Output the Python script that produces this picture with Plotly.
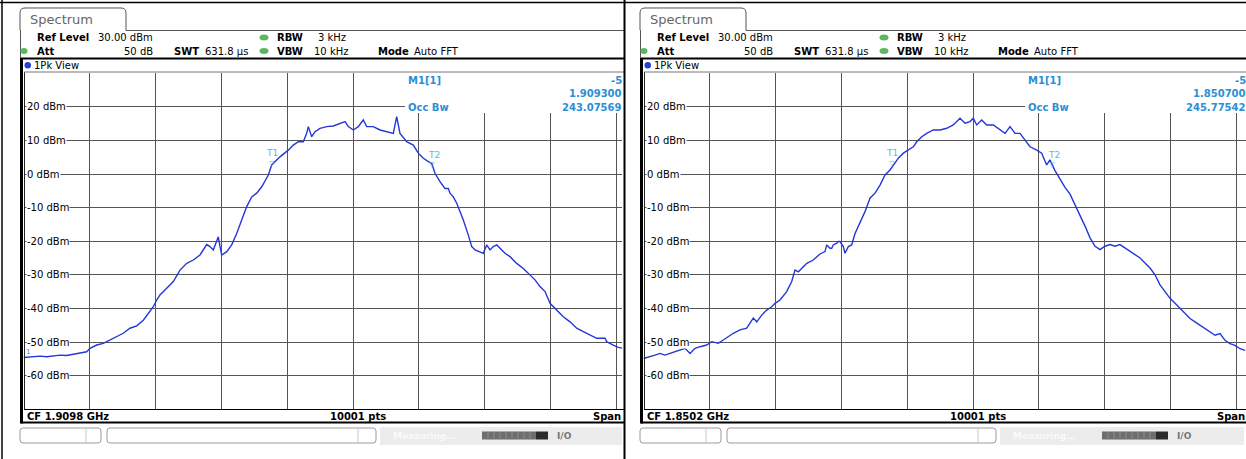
import plotly.graph_objects as go

# ---------------- data (read from the two analyzer screens) ----------------
cf_left_mhz = 1909.8
cf_right_mhz = 1850.2
span_khz = 1000.0

left_offset_khz = [0.0, 14.9, 25.0, 35.2, 45.2, 55.4, 65.6, 75.6, 85.7, 95.9,
                   100.9, 111.1, 121.1, 131.3, 141.4, 151.4, 161.6, 171.8, 181.8, 189.4,
                   197.0, 202.1, 207.1, 217.3, 227.3, 237.5, 247.7, 257.7, 267.8, 278.0,
                   283.0, 288.0, 295.6, 298.2, 300.8, 308.4, 315.9, 323.5, 331.1, 338.7,
                   346.3, 353.9, 361.5, 366.5, 371.5, 376.6, 381.6, 389.2, 401.8, 409.4,
                   417.0, 424.6, 429.7, 432.2, 437.3, 442.4, 449.9, 460.1, 470.1, 480.3,
                   487.9, 492.9, 500.5, 508.1, 515.6, 520.8, 530.8, 541.0, 551.2, 561.2,
                   566.3, 571.3, 581.5, 586.5, 591.5, 599.1, 606.7, 614.3, 619.4, 624.4,
                   632.0, 639.6, 644.6, 647.2, 652.2, 657.4, 662.4, 667.4, 675.0, 680.2,
                   685.2, 692.8, 697.7, 702.9, 707.9, 712.9, 718.1, 723.1, 730.7, 738.3,
                   748.4, 758.5, 768.6, 776.2, 783.8, 791.4, 799.0, 809.1, 819.1, 829.3,
                   839.5, 849.5, 859.7, 869.8, 882.4, 885.0, 895.0, 902.6, 910.2]
left_level_dbm = [-54.6, -54.4, -54.2, -54.4, -54.2, -53.9, -54.0, -53.6, -53.2, -52.9,
                  -51.9, -50.9, -50.4, -49.4, -48.4, -47.4, -45.9, -45.2, -43.5, -41.5,
                  -39.5, -37.5, -36.0, -34.0, -32.0, -28.6, -26.6, -25.6, -24.1, -21.0,
                  -21.6, -22.6, -18.7, -21.6, -24.1, -23.1, -21.1, -17.7, -13.7, -9.7,
                  -6.8, -5.7, -3.8, -1.8, -0.3, 2.7, 3.7, 5.1, 7.1, 8.6,
                  9.6, 9.6, 12.1, 14.1, 11.1, 12.6, 13.6, 14.1, 14.3, 15.1,
                  15.6, 14.1, 13.1, 14.1, 16.1, 14.1, 14.1, 13.1, 12.6, 12.1,
                  17.1, 12.1, 9.6, 9.1, 8.6, 6.2, 4.7, 3.7, 3.2, 0.2,
                  -2.3, -4.3, -4.3, -5.7, -6.8, -8.7, -11.2, -13.7, -18.2, -21.6,
                  -22.6, -23.1, -23.6, -21.1, -22.6, -21.6, -21.1, -22.1, -23.6, -24.6,
                  -26.6, -28.1, -30.1, -31.5, -33.5, -35.0, -38.5, -40.5, -42.5, -44.0,
                  -45.9, -46.9, -47.9, -48.9, -48.9, -49.9, -50.9, -51.6, -51.9]

right_offset_khz = [0.0, 9.9, 17.5, 25.0, 32.6, 40.2, 47.8, 55.4, 63.0, 70.6,
                    78.2, 85.7, 95.9, 103.5, 113.5, 121.1, 128.7, 136.3, 146.4, 156.6,
                    166.6, 171.8, 179.4, 187.0, 194.5, 199.6, 207.1, 217.3, 224.9, 229.9,
                    235.0, 240.2, 247.7, 257.7, 267.8, 275.4, 278.0, 283.0, 285.6, 288.0,
                    293.2, 295.6, 298.2, 303.2, 305.8, 310.8, 315.9, 321.0, 328.5, 336.1,
                    343.7, 351.3, 358.9, 366.5, 374.1, 379.1, 386.7, 394.3, 401.8, 409.4,
                    414.6, 422.2, 429.7, 439.8, 450.0, 460.1, 470.1, 480.3, 487.9, 495.5,
                    500.5, 505.6, 513.2, 520.8, 530.8, 541.0, 548.6, 556.2, 563.7, 571.3,
                    578.9, 586.5, 596.7, 604.2, 611.8, 616.8, 624.4, 632.0, 639.6, 647.2,
                    654.8, 662.4, 670.0, 677.6, 685.2, 692.8, 700.3, 707.9, 715.5, 723.1,
                    730.7, 738.3, 745.9, 753.5, 761.0, 768.6, 776.2, 783.8, 791.4, 799.0,
                    806.6, 814.2, 821.8, 829.3, 836.9, 844.5, 852.1, 859.7, 867.3, 874.9,
                    882.4, 890.0, 897.6, 905.2, 912.8]
right_level_dbm = [-54.9, -54.4, -53.9, -53.4, -53.9, -53.4, -52.9, -52.4, -51.9, -53.4,
                   -51.9, -51.4, -50.9, -49.9, -50.4, -49.4, -48.4, -47.4, -46.4, -45.9,
                   -42.9, -44.0, -42.0, -40.5, -39.5, -38.5, -37.5, -35.0, -32.0, -28.6,
                   -29.1, -28.1, -26.6, -25.6, -23.8, -23.1, -21.1, -22.1, -22.1, -21.1,
                   -20.6, -20.1, -20.1, -21.6, -23.6, -21.6, -21.1, -17.7, -14.7, -11.2,
                   -7.2, -5.7, -3.3, -0.3, 1.2, 2.7, 4.7, 6.2, 7.1, 8.1,
                   9.6, 11.1, 12.1, 13.1, 13.1, 13.6, 14.6, 16.6, 15.1, 15.6,
                   16.6, 14.6, 16.1, 14.6, 14.6, 13.1, 12.1, 14.1, 12.1, 12.1,
                   10.1, 8.1, 7.1, 6.2, 2.7, 4.2, 1.0, -1.5, -4.0, -6.0,
                   -9.0, -12.0, -15.5, -19.0, -21.5, -22.5, -21.5, -21.0, -21.5, -21.0,
                   -22.0, -23.0, -24.0, -25.0, -26.5, -28.0, -30.0, -33.0, -35.0, -37.0,
                   -38.5, -40.0, -41.5, -43.0, -44.0, -45.0, -46.0, -47.0, -48.0, -47.5,
                   -49.5, -50.5, -51.0, -52.0, -52.5]

y_tick_labels = [20, 10, 0, -10, -20, -30, -40, -50, -60]

panels = [
    dict(cf=cf_left_mhz, offs=left_offset_khz, lev=left_level_dbm,
         cf_text="CF 1.9098 GHz", m1_freq="1.909300", occ="243.07569"),
    dict(cf=cf_right_mhz, offs=right_offset_khz, lev=right_level_dbm,
         cf_text="CF 1.8502 GHz", m1_freq="1.850700", occ="245.77542"),
]

# ---------------- layout helpers (pixel -> paper) ----------------
W, H = 1246, 459
FONT = "DejaVu Sans"


def px(x):
    return x / W


def py(y):
    return 1 - y / H


shapes = []
annotations = []


def line(x0, y0, x1, y1, color="black", width=1):
    shapes.append(dict(type="line", xref="paper", yref="paper", x0=px(x0), y0=py(y0),
                       x1=px(x1), y1=py(y1), line=dict(color=color, width=width), layer="above"))


def rect(x0, y0, x1, y1, fill, lc=None, width=0):
    shapes.append(dict(type="rect", xref="paper", yref="paper", x0=px(x0), y0=py(y0),
                       x1=px(x1), y1=py(y1), fillcolor=fill,
                       line=dict(color=lc or fill, width=width), layer="above"))


def ellipse(x0, y0, x1, y1, fill):
    shapes.append(dict(type="circle", xref="paper", yref="paper", x0=px(x0), y0=py(y0),
                       x1=px(x1), y1=py(y1), fillcolor=fill, line=dict(width=0), layer="above"))


def path(d_pts, color="#555", width=1):
    parts = []
    for item in d_pts:
        cmd, coords = item[0], item[1:]
        xy = []
        for i in range(0, len(coords), 2):
            xy.append(f"{px(coords[i]):.6f},{py(coords[i+1]):.6f}")
        parts.append(cmd + " " + " ".join(xy))
    shapes.append(dict(type="path", xref="paper", yref="paper", path=" ".join(parts),
                       line=dict(color=color, width=width), layer="above"))


def rounded(x0, y0, x1, y1, r, color="#9a9a9a"):
    path([("M", x0 + r, y0), ("L", x1 - r, y0), ("Q", x1, y0, x1, y0 + r),
          ("L", x1, y1 - r), ("Q", x1, y1, x1 - r, y1), ("L", x0 + r, y1),
          ("Q", x0, y1, x0, y1 - r), ("L", x0, y0 + r), ("Q", x0, y0, x0 + r, y0)],
         color=color, width=1)


def text(t, x, y, anchor="left", size=10, color="black", bold=False, bg=None, yref=None):
    a = dict(text=(f"<b>{t}</b>" if bold else t), xref="paper", x=px(x),
             xanchor=anchor, yanchor="middle", showarrow=False,
             font=dict(family=FONT, size=size, color=color), borderpad=0)
    if yref:
        a["yref"] = yref
        a["y"] = y
    else:
        a["yref"] = "paper"
        a["y"] = py(y)
    if bg:
        a["bgcolor"] = bg
    annotations.append(a)


fig = go.Figure()

BLUE_TXT = "#2a8fd6"
MARK_TXT = "#62b6e4"
GRID = "#555555"
PX_PER_MHZ = 659.0

for i, p in enumerate(panels):
    ox = 620 * i
    xe = 624 if i == 0 else 1246          # visible right edge of the panel frame
    plot_r = 622 if i == 0 else 1246      # visible right edge of plot area
    plot_l = 23.5 + ox
    f0 = p["cf"] - span_khz / 2000.0
    freqs = [f0 + o / 1000.0 for o in p["offs"]]
    xa = "x" if i == 0 else "x2"
    ya = "y" if i == 0 else "y2"
    sfx = "" if i == 0 else "2"

    fig.add_trace(go.Scatter(x=freqs, y=p["lev"], mode="lines", xaxis=xa, yaxis=ya,
                             line=dict(color="#2536d8", width=1.4), showlegend=False,
                             hoverinfo="skip"))

    fig.update_layout(**{
        f"xaxis{sfx}": dict(domain=[px(plot_l), px(plot_r)],
                            range=[f0, f0 + (plot_r - plot_l) / PX_PER_MHZ],
                            tick0=f0, dtick=0.1, showgrid=True, gridcolor=GRID, gridwidth=1,
                            showticklabels=False, ticks="", zeroline=False, showline=False,
                            fixedrange=True, anchor=ya),
        f"yaxis{sfx}": dict(domain=[py(409.2), py(73.2)], range=[-70, 30], tick0=0, dtick=10,
                            showgrid=True, gridcolor=GRID, gridwidth=1, showticklabels=False,
                            ticks="", zeroline=False, showline=False, fixedrange=True,
                            anchor=xa),
    })

    # y labels inside the plot (white box interrupts the gridline)
    for v in y_tick_labels:
        text(f"{v} dBm", 26 + ox, v, size=10, bg="white", yref=ya)

    # ---- tab + header ----
    path([("M", 20 + ox, 30), ("L", 20 + ox, 13), ("Q", 20 + ox, 8, 25 + ox, 8),
          ("L", 121 + ox, 8), ("Q", 126 + ox, 8, 126 + ox, 13), ("L", 126 + ox, 30.5)],
         color="#555", width=1)
    text("Spectrum", 29 + ox, 19, size=13, color="#666")
    line(126 + ox, 30.5, xe, 30.5, "#555", 1)
    line(20.5 + ox, 30, 20.5 + ox, 58, "#555", 1)

    text("Ref Level", 36 + ox, 37.5, bold=True)
    text("30.00 dBm", 97 + ox, 37.5)
    ellipse(259.5 + ox, 34.5, 268.5 + ox, 40.5, "#5cb85c")
    text("RBW", 276 + ox, 37.5, bold=True)
    text("3 kHz", 317 + ox, 37.5)

    ellipse(20.5 + ox, 48, 27.5 + ox, 54, "#5cb85c")
    text("Att", 36 + ox, 51, bold=True)
    text("50 dB", 154 + ox, 51, anchor="right")
    text("SWT", 173 + ox, 51, bold=True)
    text("631.8 µs", 204 + ox, 51)
    ellipse(259.5 + ox, 48, 268.5 + ox, 54, "#5cb85c")
    text("VBW", 276 + ox, 51, bold=True)
    text("10 kHz", 313 + ox, 51)
    text("Mode", 377 + ox, 51, bold=True)
    text("Auto FFT", 413 + ox, 51)

    # ---- trace window frame ----
    line(21 + ox, 58.5, xe, 58.5, "black", 2)
    line(21.5 + ox, 58, 21.5 + ox, 423.5, "black", 3)
    line(24.5 + ox, 72, 24.5 + ox, 409.5, "#222", 1)
    line(24 + ox, 72, xe, 72, "#777", 1)
    line(24 + ox, 409.5, xe, 409.5, "black", 1)
    line(21 + ox, 422.5, xe, 422.5, "black", 2)
    ellipse(24.5 + ox, 62, 31 + ox, 68.5, "#1f3fd8")
    text("1Pk View", 33 + ox, 65.5)

    # marker info box
    rect(405 + ox, 73, plot_r, 113, "white")
    text("M1[1]", 407 + ox, 80, bold=True, color=BLUE_TXT)
    text("-5", plot_r + 1, 80, anchor="right", bold=True, color=BLUE_TXT)
    text(p["m1_freq"], plot_r + 1, 93.5, anchor="right", bold=True, color=BLUE_TXT)
    text("Occ Bw", 407 + ox, 107, bold=True, color=BLUE_TXT)
    text(p["occ"], plot_r + 1, 107, anchor="right", bold=True, color=BLUE_TXT)

    # T1 / T2 occupied bandwidth markers
    text("T1", 265 + ox, 153, size=9, color=MARK_TXT)
    text("▽", 272 + ox, 163.5, size=7, color=MARK_TXT, anchor="center")
    text("T2", 427 + ox, 154.5, size=9, color=MARK_TXT)
    text("▽", 432 + ox, 165, size=7, color=MARK_TXT, anchor="center")
    if i == 0:
        text("1", 25 + ox, 352, size=7, color=BLUE_TXT)

    # bottom status bar of the window
    text(p["cf_text"], 26 + ox, 416, bold=True)
    text("10001 pts", 358 + ox, 416, anchor="center", bold=True)
    text("Span", plot_r, 416, anchor="right", bold=True)

    # soft-key / status area below the window
    rounded(20 + ox, 428, 101 + ox, 443, 3)
    line(86 + ox, 428, 86 + ox, 443, "#c8c8c8", 1)
    rounded(107 + ox, 428, 376 + ox, 443, 3)
    line(358 + ox, 428, 358 + ox, 443, "#c8c8c8", 1)
    rect(380 + ox, 427, xe - 2, 445, "#ececec")
    text("Measuring...", 392 + ox, 436, size=9, color="#fafafa", bold=True)
    rect(482 + ox, 431.5, 536 + ox, 439.5, "#6e6e6e")
    for k in range(1, 9):
        line(482 + ox + 6 * k, 431.5, 482 + ox + 6 * k, 439.5, "#8a8a8a", 1)
    rect(536 + ox, 431.5, 548 + ox, 439.5, "#2a2a2a")
    text("I/O", 564 + ox, 435.5, size=9, color="#777", bold=True, anchor="center")

# outer borders
line(0, 2.5, W, 2.5, "black", 1.5)
line(2, 0, 2, H, "black", 1.5)
line(624.5, 0, 624.5, H, "black", 2)

fig.update_layout(width=W, height=H, margin=dict(l=0, r=0, t=0, b=0), autosize=False,
                  paper_bgcolor="white", plot_bgcolor="white", showlegend=False,
                  shapes=shapes, annotations=annotations,
                  font=dict(family=FONT, size=10, color="black"))

fig.write_html("out.html", config={"displayModeBar": False},
               post_script="document.body.style.margin='0';"
                           "document.body.style.overflow='hidden';")
